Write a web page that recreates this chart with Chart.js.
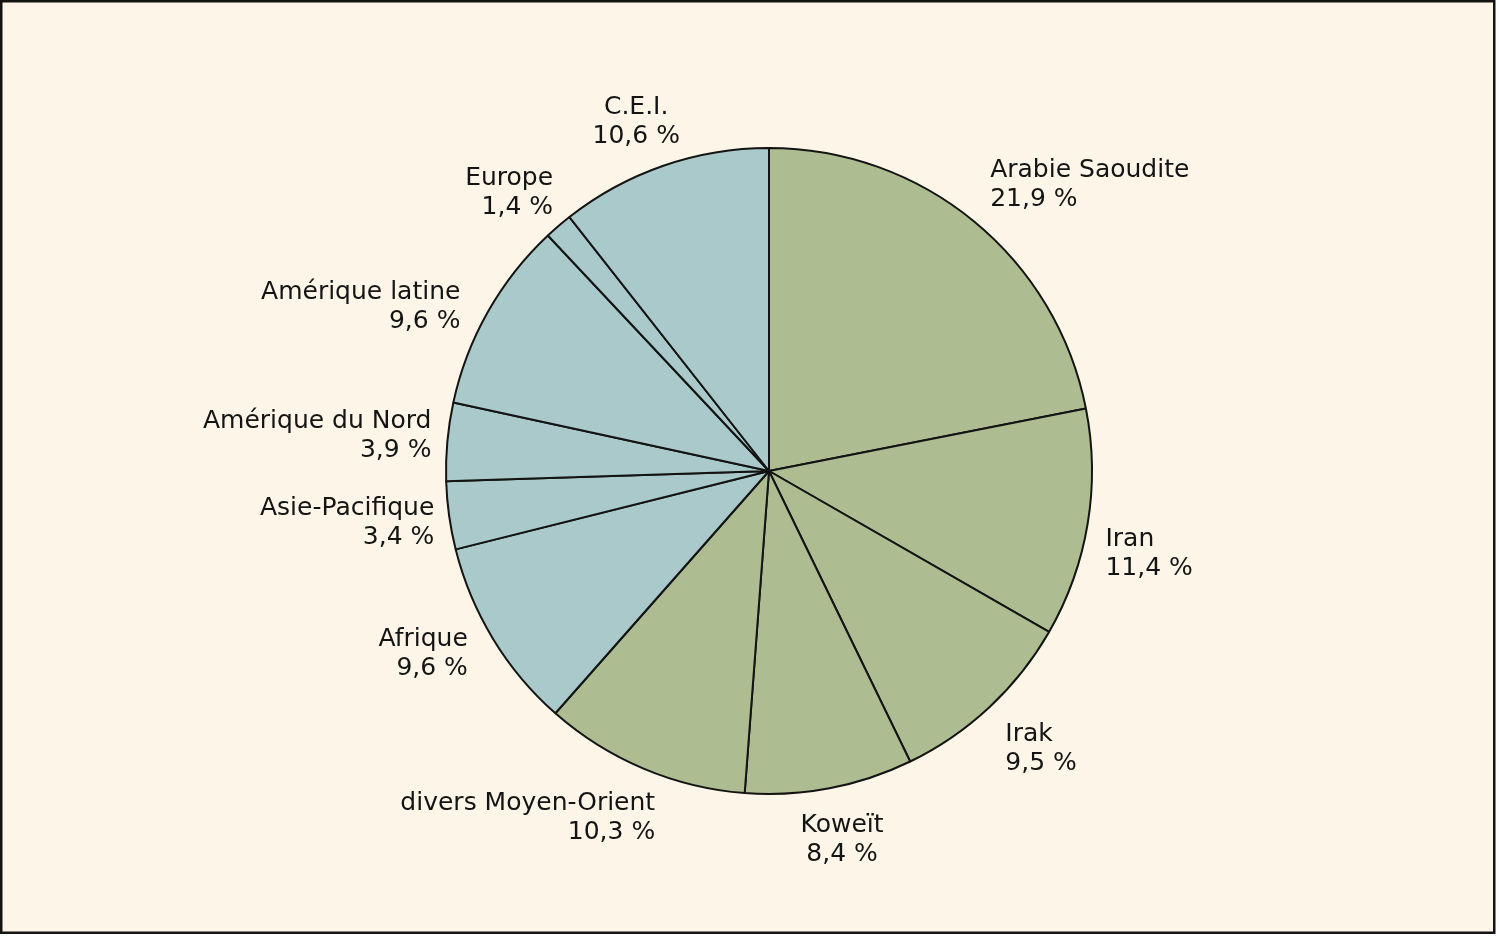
<!DOCTYPE html>
<html>
<head>
<meta charset="utf-8">
<script src="https://cdn.jsdelivr.net/npm/chart.js@4"></script>
<style>
  html, body { margin: 0; padding: 0; background: #ffffff; }
  canvas { display: block; }
</style>
</head>
<body>
<canvas id="c" width="1499" height="936"></canvas>
<script>
// ---- data ----
const categories = ["Arabie Saoudite", "Iran", "Irak", "Koweït", "divers Moyen-Orient",
  "Afrique", "Asie-Pacifique", "Amérique du Nord", "Amérique latine", "Europe", "C.E.I."];
const shares = [21.9, 11.4, 9.5, 8.4, 10.3, 9.6, 3.4, 3.9, 9.6, 1.4, 10.6];
const shareLabels = ["21,9 %", "11,4 %", "9,5 %", "8,4 %", "10,3 %", "9,6 %", "3,4 %", "3,9 %", "9,6 %", "1,4 %", "10,6 %"];
const groups = ["mo", "mo", "mo", "mo", "mo", "other", "other", "other", "other", "other", "other"];

// ---- styles / layout ----
const groupColors = { mo: "#adbd91", other: "#a9c9ca" };
const BG = "#fdf5e8";
const INK = "#141414";
const FONT = '25px "DejaVu Sans"';
const LINE_GAP = 29;
// label placement relative to slice mid-angle anchor: [align, dx, dy]
const labelLayout = [
  ["left", 4, -30], ["left", -1, 19], ["left", 3, 20], ["center", 9, 25],
  ["right", 19, 24], ["right", -9, -3], ["right", 4, -3], ["right", 3, -12],
  ["right", -11, -3], ["right", 7, -27], ["center", -21, -34]
];

const bgPlugin = {
  id: "bgFrame",
  beforeDraw(chart) {
    const ctx = chart.ctx;
    ctx.save();
    ctx.fillStyle = "#ffffff";
    ctx.fillRect(0, 0, chart.width, chart.height);
    ctx.fillStyle = BG;
    ctx.fillRect(0, 0, 1495, 934);
    ctx.strokeStyle = INK;
    ctx.lineWidth = 2.5;
    ctx.strokeRect(1.25, 1.25, 1493, 931.5);
    ctx.restore();
  }
};

const labelPlugin = {
  id: "sliceLabels",
  afterDraw(chart) {
    const ctx = chart.ctx;
    const meta = chart.getDatasetMeta(0);
    ctx.save();
    ctx.font = FONT;
    ctx.fillStyle = INK;
    ctx.textBaseline = "alphabetic";
    meta.data.forEach((arc, i) => {
      const p = arc.getProps(["x", "y", "startAngle", "endAngle", "outerRadius"], true);
      const mid = (p.startAngle + p.endAngle) / 2;
      const r = p.outerRadius + 19;
      const ax = p.x + Math.cos(mid) * r;
      const ay = p.y + Math.sin(mid) * r;
      const [align, dx, dy] = labelLayout[i];
      ctx.textAlign = align;
      ctx.fillText(categories[i], ax + dx, ay + dy);
      ctx.fillText(shareLabels[i], ax + dx, ay + dy + LINE_GAP);
    });
    ctx.restore();
  }
};

new Chart(document.getElementById("c"), {
  type: "pie",
  data: {
    labels: categories,
    datasets: [{
      data: shares,
      backgroundColor: groups.map(g => groupColors[g]),
      borderColor: INK,
      borderWidth: 2,
      radius: 323
    }]
  },
  options: {
    responsive: false,
    animation: false,
    layout: { padding: { left: 39, right: 0, top: 6, bottom: 0 } },
    plugins: { legend: { display: false }, tooltip: { enabled: false } }
  },
  plugins: [bgPlugin, labelPlugin]
});
</script>
</body>
</html>
